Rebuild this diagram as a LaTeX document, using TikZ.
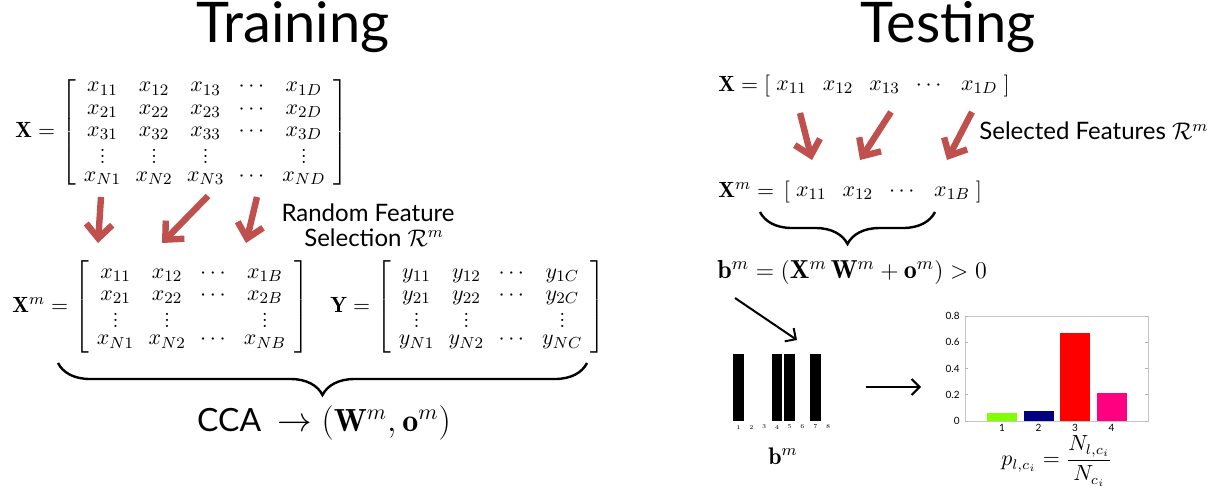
\documentclass[tikz,border=0pt]{standalone}
\usepackage{amsmath,amssymb}
\usepackage{fontspec}
\setsansfont{Lato}
\usepackage{xcolor}
\usepackage{tikz}
\usetikzlibrary{arrows.meta, positioning, calc, decorations.pathreplacing}
\definecolor{selred}{RGB}{192,80,77}
\definecolor{barlime}{RGB}{128,255,0}
\definecolor{barnavy}{RGB}{0,0,128}
\definecolor{barpink}{RGB}{255,0,128}
% short vertical dots for the matrices
\newcommand{\vd}{\lower2.5pt\vbox{\baselineskip=3pt\lineskiplimit=0pt\hbox{.}\hbox{.}\hbox{.}}}

\begin{document}
\begin{tikzpicture}[x=0.5pt, y=-0.5pt,
  title/.style={font=\fontsize{28}{32}\selectfont\sffamily, inner sep=0pt, anchor=base},
  note/.style={font=\fontsize{12}{12.5}\selectfont\sffamily, inner sep=0pt, align=center},
  eqn/.style={inner sep=0pt},
  mtx/.style={inner sep=0pt, font=\fontsize{11}{13.6}\selectfont,
    execute at begin node={\setlength{\arraycolsep}{#1}\def\arraystretch{0.82}}},
  selarrow/.style={line width=3.2pt, draw=selred, -{Straight Barb[length=7pt,width=13pt]}},
  pointer/.style={line width=1pt, -{Straight Barb[length=4pt,width=8pt]}},
  bigbrace/.style={decorate, decoration={brace, mirror, amplitude=16pt}, line width=1.2pt},
  ticklbl/.style={font=\fontsize{5}{6}\selectfont\sffamily, inner sep=0pt}]
  \useasboundingbox (0,0) rectangle (1222,488);

  % ---------------- Training ----------------
  \node[title] (trtitle) at (293,42) {Training};
  \node[mtx=3.6pt, anchor=west] (Xtr) at (15,132) {$\mathbf{X} = \left[\hspace{4pt}\begin{matrix}
      x_{11} & x_{12} & x_{13} & \cdots & x_{1D}\\
      x_{21} & x_{22} & x_{23} & \cdots & x_{2D}\\
      x_{31} & x_{32} & x_{33} & \cdots & x_{3D}\\
      \vd    & \vd    & \vd    &        & \vd\\
      x_{N1} & x_{N2} & x_{N3} & \cdots & x_{ND}
    \end{matrix}\hspace{4pt}\right]$};
  % random selection arrows
  \coordinate (trS1) at (101,197); \coordinate (trE1) at (98,243);
  \coordinate (trS2) at (208,196); \coordinate (trE2) at (162,243);
  \coordinate (trS3) at (257,197); \coordinate (trE3) at (246,243);
  \foreach \k in {1,2,3} {
    \draw[selarrow] (trS\k) -- (trE\k);
  }
  \node[note] (rfs) at (368,225) {Random Feature\\ \ \ Selection $\mathcal{R}^m$};
  \node[mtx=3.6pt, anchor=west] (Xmtr) at (12,307) {$\mathbf{X}^m = \left[\hspace{4pt}\begin{matrix}
      x_{11} & x_{12} & \cdots & x_{1B}\\
      x_{21} & x_{22} & \cdots & x_{2B}\\
      \vd    & \vd    &        & \vd\\
      x_{N1} & x_{N2} & \cdots & x_{NB}
    \end{matrix}\hspace{4pt}\right]$};
  \node[mtx=3.6pt, anchor=west] (Ytr) at (330,307) {$\mathbf{Y} = \left[\hspace{4pt}\begin{matrix}
      y_{11} & y_{12} & \cdots & y_{1C}\\
      y_{21} & y_{22} & \cdots & y_{2C}\\
      \vd    & \vd    &        & \vd\\
      y_{N1} & y_{N2} & \cdots & y_{NC}
    \end{matrix}\hspace{4pt}\right]$};
  \coordinate (trBL) at (58,363); \coordinate (trBR) at (587,363);
  \draw[bigbrace] (trBL) -- (trBR);
  \node[eqn, font=\fontsize{16}{19}\selectfont] (cca) at (324,423) {\sffamily CCA\ \ $\rightarrow (\mathbf{W}^m, \mathbf{o}^m)$};

  % ---------------- Testing ----------------
  \node[title] (tetitle) at (948,42) {Testing};
  \node[mtx=4pt, anchor=west] (Xte) at (718,86) {$\mathbf{X} = \left[\hspace{3pt}\begin{matrix}
      x_{11} & x_{12} & x_{13} & \cdots & x_{1D}
    \end{matrix}\hspace{3pt}\right]$};
  \coordinate (teS1) at (800,113); \coordinate (teE1) at (812,160);
  \coordinate (teS2) at (891,112); \coordinate (teE2) at (860,160);
  \coordinate (teS3) at (972,112); \coordinate (teE3) at (947,160);
  \foreach \k in {1,2,3} {
    \draw[selarrow] (teS\k) -- (teE\k);
  }
  \node[note, anchor=west] (sf) at (979,131) {Selected Features $\mathcal{R}^m$};
  \node[mtx=4pt, anchor=west] (Xmte) at (718,192) {$\mathbf{X}^m = \,\left[\hspace{3pt}\begin{matrix}
      x_{11} & x_{12} & \cdots & x_{1B}
    \end{matrix}\hspace{3pt}\right]$};
  \coordinate (teBL) at (760,212); \coordinate (teBR) at (935,212);
  \draw[bigbrace] (teBL) -- (teBR);
  \node[eqn, anchor=west, font=\fontsize{13}{15}\selectfont] (beq) at (717,272) {$\mathbf{b}^m = (\mathbf{X}^m\,\mathbf{W}^m + \mathbf{o}^m) > 0$};
  \coordinate (bS) at (735,298); \coordinate (bE) at (797,340);
  \draw[pointer] (bS) -- (bE);

  % binary code b^m
  \foreach \i in {1,4,5,7} {
    \fill[black] ({738.5+12.8*(\i-1)-5.3},354) rectangle ({738.5+12.8*(\i-1)+5.3},421);
  }
  \foreach \i in {1,...,8} {
    \node[font=\fontsize{3}{4}\selectfont, inner sep=0pt] (bn\i) at ({738.5+12.8*(\i-1)},427) {\i};
  }
  \node[eqn, font=\fontsize{12}{14}\selectfont] (blbl) at (783,456) {$\mathbf{b}^m$};
  \coordinate (hS) at (866,387); \coordinate (hE) at (921,387);
  \draw[pointer] (hS) -- (hE);

  % histogram of votes
  \draw[gray!45, line width=0.4pt] (965,316) rectangle (1148,421);
  \foreach \v in {0,0.2,0.4,0.6,0.8} {
    \draw[gray!60, line width=0.3pt] (965,{421-131.25*\v}) -- ++(3,0);
    \draw[gray!60, line width=0.3pt] (1148,{421-131.25*\v}) -- ++(-3,0);
    \node[ticklbl, anchor=east] at (960,{421-131.25*\v}) {\v};
  }
  \foreach \i/\h/\c in {1/0.06/barlime, 2/0.075/barnavy, 3/0.67/red, 4/0.21/barpink} {
    \fill[\c] ({1002+36.5*(\i-1)-15},421) rectangle ({1002+36.5*(\i-1)+15},{421-131.25*\h});
    \node[ticklbl] at ({1002+36.5*(\i-1)},428) {\i};
  }
  \node[eqn, font=\fontsize{10.5}{12}\selectfont] (pfrm) at (1057,461) {$p_{l,c_i} = \dfrac{N_{l,c_i}}{N_{c_i}}$};
\end{tikzpicture}
\end{document}
